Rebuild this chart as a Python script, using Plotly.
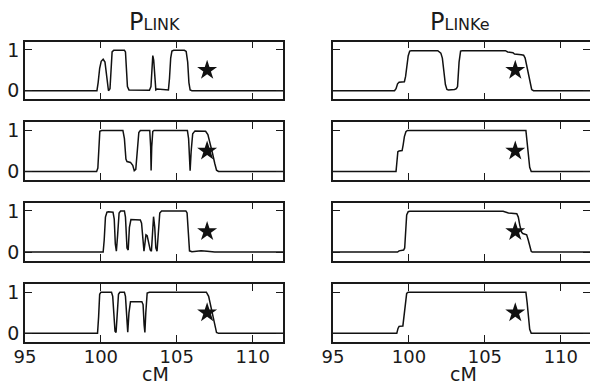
import plotly.graph_objects as go
from plotly.subplots import make_subplots

# ---------------- data ----------------
x_ticks = [95, 100, 105, 110]
x_tick_labels = ["95", "100", "105", "110"]
y_ticks = [0, 1]
y_tick_labels = ["0", "1"]
column_titles = ["P<span style='font-size:16px'>LINK</span>",
                 "P<span style='font-size:16px'>LINKe</span>"]
x_label = "cM"
star_x = [107.0]
star_y = [0.5]

plink1_x = [95, 99.74, 99.82, 99.92, 100.02, 100.15, 100.27, 100.36, 100.44, 100.5, 100.6, 100.67, 100.74,
            100.85, 101.55, 101.62, 101.68, 101.75, 101.85, 102.5, 103.2, 103.3, 103.36, 103.42, 103.48,
            103.55, 103.62, 103.7, 104.0, 104.25, 104.45, 104.52, 104.6, 104.68, 104.8, 105.5, 105.62,
            105.72, 105.8, 105.88, 106.0, 112]
plink1_y = [0, 0, 0.2, 0.55, 0.72, 0.77, 0.7, 0.45, 0.1, 0, 0.05, 0.6, 0.95, 0.99, 0.99, 0.95, 0.6, 0.1,
            0.02, 0.02, 0.01, 0.1, 0.6, 0.86, 0.75, 0.25, 0.02, 0.04, 0.03, 0.02, 0.02, 0.3, 0.8, 0.97,
            0.99, 0.99, 0.96, 0.7, 0.2, 0.02, 0, 0]

plink2_x = [95, 99.72, 99.8, 99.86, 99.93, 100.05, 101.45, 101.55, 101.65, 101.72, 101.8, 101.95, 102.1,
            102.2, 102.3, 102.4, 102.5, 102.6, 103.22, 103.28, 103.31, 103.35, 103.42, 103.5, 105.7,
            105.78, 105.84, 105.88, 105.95, 106.05, 106.2, 106.9, 107.05, 107.2, 107.35, 107.5, 107.62,
            107.75, 112]
plink2_y = [0, 0, 0.08, 0.6, 0.98, 1.0, 1.0, 0.8, 0.3, 0.24, 0.23, 0.22, 0.15, 0.02, 0.05, 0.5, 0.95,
            1.0, 1.0, 0.6, 0.02, 0.6, 0.98, 1.0, 1.0, 0.8, 0.2, 0.02, 0.5, 0.92, 0.99, 0.98, 0.9, 0.7,
            0.45, 0.2, 0.03, 0, 0]

plink3_x = [95, 100.15, 100.22, 100.3, 100.4, 100.5, 100.8, 100.88, 100.95, 101.02, 101.1, 101.2, 101.3,
            101.55, 101.62, 101.72, 101.8, 101.88, 101.98, 102.6, 102.68, 102.76, 102.84, 102.9, 102.97,
            103.05, 103.15, 103.25, 103.33, 103.4, 103.47, 103.55, 103.62, 103.7, 103.78, 103.88, 104.0,
            105.6, 105.68, 105.76, 105.84, 106.0, 106.3, 106.6, 107.0, 107.3, 107.5, 112]
plink3_y = [0, 0, 0.3, 0.85, 0.97, 0.98, 0.97, 0.8, 0.2, 0.02, 0.4, 0.95, 1.0, 1.0, 0.85, 0.1, 0.05,
            0.6, 0.79, 0.78, 0.7, 0.3, 0.02, 0.2, 0.42, 0.4, 0.25, 0.05, 0.02, 0.4, 0.86, 0.6, 0.1, 0.02,
            0.5, 0.95, 1.0, 1.0, 0.95, 0.4, 0.03, 0.01, 0.02, 0.03, 0.02, 0.01, 0, 0]

plink4_x = [95, 99.78, 99.85, 99.92, 100.0, 100.7, 100.78, 100.85, 100.93, 101.0, 101.08, 101.16,
            101.25, 101.55, 101.62, 101.7, 101.77, 101.85, 101.95, 102.7, 102.78, 102.85, 102.9, 102.96,
            103.05, 103.2, 106.95, 107.1, 107.25, 107.4, 107.52, 107.62, 107.75, 112]
plink4_y = [0, 0, 0.4, 0.95, 1.0, 1.0, 0.9, 0.4, 0.05, 0.02, 0.5, 0.95, 1.0, 1.0, 0.9, 0.3, 0.03, 0.5,
            0.77, 0.77, 0.7, 0.2, 0.02, 0.5, 0.98, 1.0, 1.0, 0.9, 0.65, 0.35, 0.12, 0.02, 0, 0]

plinke1_x = [95, 99.05, 99.15, 99.25, 99.35, 99.7, 99.78, 99.85, 99.95, 100.05, 100.15, 101.9, 102.0,
             102.1, 102.2, 102.3, 102.4, 102.5, 102.6, 103.0, 103.12, 103.2, 103.3, 103.4, 103.5,
             106.35, 106.5, 106.85, 106.95, 107.4, 107.55, 107.65, 107.8, 107.95, 108.08, 108.2, 112]
plinke1_y = [0, 0, 0.05, 0.17, 0.21, 0.22, 0.35, 0.6, 0.85, 0.97, 0.98, 0.98, 0.96, 0.92, 0.8, 0.5,
             0.15, 0.03, 0.02, 0.03, 0.05, 0.1, 0.7, 0.97, 0.98, 0.98, 0.95, 0.93, 0.9, 0.88, 0.87,
             0.8, 0.5, 0.2, 0.03, 0, 0]

plinke2_x = [95, 99.15, 99.2, 99.27, 99.35, 99.55, 99.62, 99.7, 99.8, 99.9, 107.7, 107.78, 107.86,
             107.95, 108.05, 112]
plinke2_y = [0, 0, 0.2, 0.48, 0.5, 0.51, 0.65, 0.85, 0.97, 1.0, 1.0, 0.75, 0.4, 0.1, 0, 0]

plinke3_x = [95, 99.25, 99.35, 99.65, 99.72, 99.78, 99.85, 99.95, 100.05, 106.2, 106.4, 106.55, 107.1,
             107.2, 107.3, 107.42, 107.5, 107.75, 107.85, 107.95, 108.05, 108.12, 112]
plinke3_y = [0, 0, 0.03, 0.05, 0.1, 0.5, 0.9, 0.98, 0.99, 0.99, 0.96, 0.95, 0.93, 0.85, 0.65, 0.48,
             0.45, 0.42, 0.3, 0.12, 0.02, 0, 0]

plinke4_x = [95, 99.2, 99.28, 99.35, 99.6, 99.68, 99.76, 99.85, 99.95, 107.7, 107.78, 107.86, 107.95,
             108.05, 112]
plinke4_y = [0, 0, 0.12, 0.17, 0.18, 0.4, 0.75, 0.97, 1.0, 1.0, 0.75, 0.4, 0.1, 0, 0]

panels = [
    [(plink1_x, plink1_y), (plinke1_x, plinke1_y)],
    [(plink2_x, plink2_y), (plinke2_x, plinke2_y)],
    [(plink3_x, plink3_y), (plinke3_x, plinke3_y)],
    [(plink4_x, plink4_y), (plinke4_x, plinke4_y)],
]

# ---------------- figure ----------------
W, H = 590, 386
ink = "#1a1a1a"
font_family = "DejaVu Sans"

fig = make_subplots(rows=4, cols=2)

col_dom = [(25 / W, 283 / W), (333 / W, 1.0)]
col_range = [[95, 112], [95, 111.92]]
row_px = [(41.7, 99.3), (122.3, 180.0), (202.7, 260.7), (284.0, 342.0)]

for r in range(4):
    for c in range(2):
        xs, ys = panels[r][c]
        fig.add_trace(go.Scatter(x=xs, y=ys, mode="lines",
                                 line=dict(color="#111111", width=1.5),
                                 showlegend=False, hoverinfo="skip"),
                      row=r + 1, col=c + 1)
        fig.add_trace(go.Scatter(x=star_x, y=star_y, mode="markers",
                                 marker=dict(symbol="star", size=15, color="#111111",
                                             line=dict(width=0)),
                                 showlegend=False, hoverinfo="skip"),
                      row=r + 1, col=c + 1)
        top, bot = row_px[r]
        fig.update_xaxes(domain=list(col_dom[c]), range=col_range[c],
                         tickvals=x_ticks, ticktext=x_tick_labels,
                         showticklabels=(r == 3), automargin=False,
                         ticks="inside", ticklen=7, tickwidth=1.3, tickcolor=ink,
                         ticklabelstandoff=-2,
                         showline=True, linecolor=ink, linewidth=1.5, mirror="ticks",
                         showgrid=False, zeroline=False,
                         tickfont=dict(family=font_family, size=18, color=ink),
                         row=r + 1, col=c + 1)
        fig.update_yaxes(domain=[1 - bot / H, 1 - top / H], range=[-0.21, 1.2],
                         tickvals=y_ticks, ticktext=y_tick_labels,
                         showticklabels=(c == 0), automargin=False,
                         ticks="inside", ticklen=7, tickwidth=1.3, tickcolor=ink,
                         showline=True, linecolor=ink, linewidth=1.5, mirror="ticks",
                         showgrid=False, zeroline=False,
                         tickfont=dict(family=font_family, size=19, color=ink),
                         row=r + 1, col=c + 1)

title_x_px = [154, 460]
xlabel_x_px = [155, 463]
for c in range(2):
    fig.add_annotation(text=column_titles[c], xref="paper", yref="paper",
                       x=title_x_px[c] / W, y=1 - 22 / H,
                       xanchor="center", yanchor="middle", showarrow=False,
                       font=dict(family=font_family, size=24, color=ink))
    fig.add_annotation(text=x_label, xref="paper", yref="paper",
                       x=xlabel_x_px[c] / W, y=0,
                       xanchor="center", yanchor="bottom", showarrow=False,
                       borderpad=0,
                       font=dict(family=font_family, size=19, color=ink))

fig.update_layout(width=W, height=H, margin=dict(l=0, r=0, t=0, b=0),
                  paper_bgcolor="white", plot_bgcolor="white",
                  font=dict(family=font_family, color=ink))

fig.write_html("out.html")
